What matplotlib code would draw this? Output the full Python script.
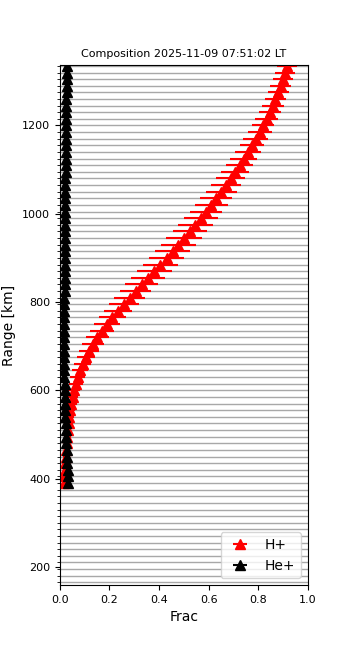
import numpy as np
import matplotlib

matplotlib.use("Agg")
import matplotlib.pyplot as plt

# range gates [km]
gates = np.arange(165, 1336, 15)
alt = gates[15:]  # 390 .. 1335

h_frac = [
    0.015, 0.018, 0.020, 0.022, 0.024, 0.026, 0.028, 0.030, 0.032, 0.035,
    0.038, 0.042, 0.046, 0.051, 0.057, 0.064, 0.072, 0.082, 0.093, 0.105,
    0.119, 0.134, 0.151, 0.170, 0.190, 0.212, 0.234, 0.257, 0.281, 0.305,
    0.330, 0.355, 0.380, 0.405, 0.430, 0.454, 0.478, 0.501, 0.524, 0.546,
    0.568, 0.589, 0.610, 0.630, 0.650, 0.669, 0.688, 0.706, 0.724, 0.741,
    0.758, 0.774, 0.790, 0.805, 0.819, 0.833, 0.846, 0.858, 0.869, 0.880,
    0.890, 0.899, 0.907, 0.914,
]
h_err = [
    0.006, 0.007, 0.008, 0.009, 0.010, 0.011, 0.012, 0.013, 0.014, 0.016,
    0.018, 0.020, 0.022, 0.024, 0.026, 0.028, 0.030, 0.032, 0.034, 0.036,
    0.040, 0.044, 0.046, 0.050, 0.052, 0.055, 0.058, 0.060, 0.062, 0.064,
    0.066, 0.068, 0.070, 0.070, 0.072, 0.072, 0.072, 0.072, 0.070, 0.070,
    0.068, 0.066, 0.066, 0.064, 0.062, 0.060, 0.058, 0.056, 0.055, 0.054,
    0.052, 0.050, 0.050, 0.048, 0.046, 0.046, 0.045, 0.044, 0.044, 0.042,
    0.042, 0.040, 0.040, 0.040,
]
he_frac = [
    0.032, 0.033, 0.031, 0.030, 0.028, 0.027, 0.026, 0.025, 0.024, 0.023,
    0.022, 0.021, 0.020, 0.020, 0.019, 0.019, 0.018, 0.018, 0.018, 0.018,
    0.018, 0.018, 0.018, 0.018, 0.018, 0.018, 0.018, 0.018, 0.018, 0.019,
    0.019, 0.019, 0.019, 0.019, 0.020, 0.020, 0.020, 0.020, 0.020, 0.021,
    0.021, 0.021, 0.021, 0.022, 0.022, 0.022, 0.022, 0.023, 0.023, 0.023,
    0.024, 0.024, 0.024, 0.025, 0.025, 0.025, 0.026, 0.026, 0.026, 0.027,
    0.027, 0.027, 0.028, 0.028,
]
he_err = [0.004] * len(alt)

fig = plt.figure(figsize=(3.5, 6.5), dpi=100)
ax = fig.add_axes([0.171, 0.1, 0.709, 0.8])

for g in gates:
    ax.axhline(g, color="#a8a8a8", lw=1.0, zorder=0)

ax.errorbar(h_frac, alt, xerr=h_err, fmt="^", color="red", ms=7,
            elinewidth=1.5, label="H+")
ax.errorbar(he_frac, alt, xerr=he_err, fmt="^", color="black", ms=7,
            elinewidth=1.5, label="He+")

ax.set_xlim(0, 1)
ax.set_ylim(159, 1337)
ax.set_yticks([200, 400, 600, 800, 1000, 1200])
ax.set_yticks(gates, minor=True)
ax.tick_params(labelsize=8)
ax.tick_params(which="minor", length=2.5)
ax.set_xlabel("Frac", fontsize=10)
ax.set_ylabel("Range [km]", fontsize=10)
ax.set_title("Composition 2025-11-09 07:51:02 LT", fontsize=8)
ax.legend(loc="lower right", fontsize=10)

plt.savefig("out.png")
